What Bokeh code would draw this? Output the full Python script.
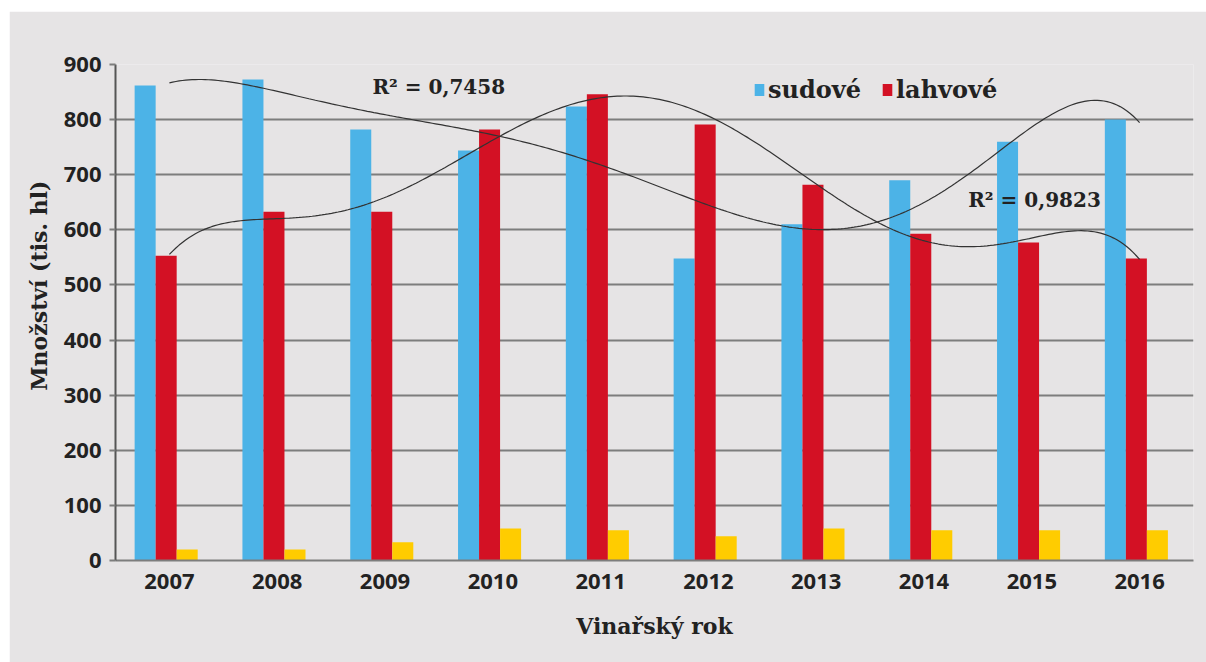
import numpy as np
from bokeh.plotting import figure
from bokeh.models import ColumnDataSource, FixedTicker, Legend, LegendItem, Label, Title, Spacer
from bokeh.layouts import row, column
from bokeh.embed import file_html
from bokeh.resources import INLINE

years = ["2007", "2008", "2009", "2010", "2011", "2012", "2013", "2014", "2015", "2016"]
sudove = [862, 873, 782, 744, 824, 548, 610, 690, 760, 800]
lahvove = [553, 633, 633, 782, 846, 791, 682, 593, 577, 548]
ostatni = [20, 20, 33, 58, 55, 44, 58, 55, 55, 55]
y_ticks = [0, 100, 200, 300, 400, 500, 600, 700, 800, 900]
r2_labels = ["R² = 0,7458", "R² = 0,9823"]

BLUE = "#4cb3e7"
RED = "#d31124"
YELLOW = "#ffcc00"
BG = "#e6e4e5"
GRID = "#7d7d7d"
TXT = "#222222"
SERIF = "DejaVu Serif"
SANS = "Open Sans"

xc = np.arange(len(years)) + 0.5
bw = 0.195

src = ColumnDataSource(dict(
    xb=xc - bw - 0.03, xr=xc - 0.03, xy=xc + bw - 0.03,
    s=sudove, l=lahvove, o=ostatni))

p = figure(width=1197, height=651, output_backend="svg", toolbar_location=None,
           x_range=(0, len(years)), y_range=(0, 900),
           min_border_left=106, min_border_right=13, min_border_top=53, min_border_bottom=102)
p.background_fill_color = BG
p.border_fill_color = BG
p.outline_line_color = None

rb = p.vbar(x="xb", top="s", width=bw, source=src, fill_color=BLUE, line_color=None)
rr = p.vbar(x="xr", top="l", width=bw, source=src, fill_color=RED, line_color=None)
p.vbar(x="xy", top="o", width=bw, source=src, fill_color=YELLOW, line_color=None)

# polynomial (degree 6) trendlines, as in the original spreadsheet chart
xi = np.arange(1, len(years) + 1)
def trend(vals, deg=6):
    c = np.polyfit(xi, vals, deg)
    xs = np.linspace(1, len(years), 300)
    return xs - 0.5, np.polyval(c, xs)

for vals in (sudove, lahvove):
    xs, ys = trend(vals)
    p.line(xs, ys, line_color="#333333", line_width=1.2)

p.xgrid.grid_line_color = None
p.ygrid.grid_line_color = GRID
p.ygrid.grid_line_width = 2
p.ygrid.ticker = FixedTicker(ticks=y_ticks)

p.yaxis.ticker = FixedTicker(ticks=y_ticks)
p.yaxis.axis_line_color = "#555555"
p.yaxis.axis_line_width = 2
p.yaxis.major_tick_out = 6
p.yaxis.major_tick_in = 0
p.yaxis.major_tick_line_color = GRID
p.yaxis.major_tick_line_width = 2
p.yaxis.minor_tick_line_color = None
p.yaxis.major_label_standoff = 8
p.yaxis.major_label_text_font = SANS
p.yaxis.major_label_text_font_style = "bold"
p.yaxis.major_label_text_font_size = "22px"
p.yaxis.major_label_text_color = TXT

p.xaxis.ticker = FixedTicker(ticks=list(xc))
p.xaxis.major_label_overrides = {float(x): y for x, y in zip(xc, years)}
p.xaxis.axis_line_color = GRID
p.xaxis.axis_line_width = 2
p.xaxis.major_tick_line_color = None
p.xaxis.minor_tick_line_color = None
p.xaxis.major_label_standoff = 7
p.xaxis.major_label_text_font = SANS
p.xaxis.major_label_text_font_style = "bold"
p.xaxis.major_label_text_font_size = "22px"
p.xaxis.major_label_text_color = TXT
p.xaxis.axis_label = "Vinařský rok"
p.xaxis.axis_label_text_font = SERIF
p.xaxis.axis_label_text_font_style = "bold"
p.xaxis.axis_label_text_font_size = "22px"
p.xaxis.axis_label_text_color = TXT
p.xaxis.axis_label_standoff = 21

ytitle = Title(text="Množství (tis. hl)", align="right", offset=116, standoff=17,
               text_font=SERIF, text_font_style="bold", text_font_size="22px",
               text_color=TXT)
p.add_layout(ytitle, "left")

p.add_layout(Label(x=2.384, y=860, text=r2_labels[0], text_baseline="middle",
                   text_font=SERIF, text_font_style="bold", text_font_size="20px",
                   text_color=TXT))
p.add_layout(Label(x=7.91, y=655, text=r2_labels[1], text_baseline="middle",
                   text_font=SERIF, text_font_style="bold", text_font_size="20px",
                   text_color=TXT))

legend = Legend(items=[LegendItem(label="sudové", renderers=[rb]),
                       LegendItem(label="lahvové", renderers=[rr])],
                orientation="horizontal", location=(638, 456))
legend.background_fill_alpha = 0
legend.border_line_color = None
legend.padding = 0
legend.margin = 0
legend.spacing = 20
legend.glyph_width = 12
legend.glyph_height = 15
legend.label_standoff = 3
legend.label_text_font = SERIF
legend.label_text_font_style = "bold"
legend.label_text_font_size = "24px"
legend.label_text_color = TXT
p.add_layout(legend)

layout = row(Spacer(width=9, height=662),
             column(Spacer(width=1197, height=11), p, spacing=0), spacing=0)

open("out.html", "w").write(file_html(layout, INLINE))
